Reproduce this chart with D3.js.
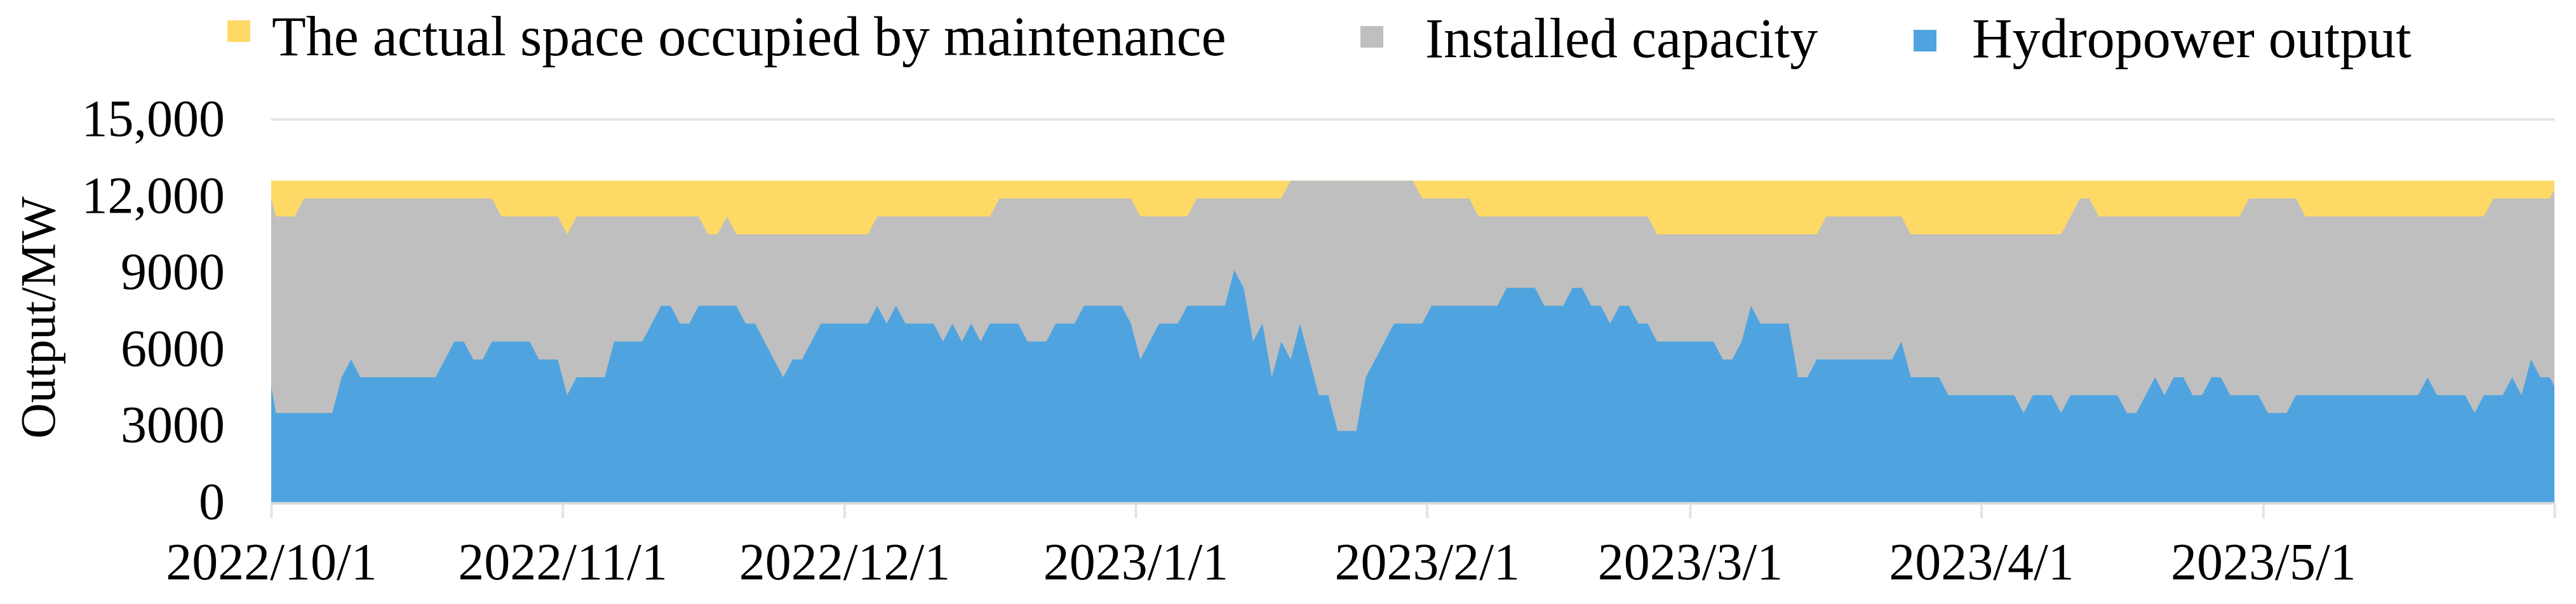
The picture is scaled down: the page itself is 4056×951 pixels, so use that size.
<!DOCTYPE html>
<html>
<head>
<meta charset="utf-8">
<script src="https://cdn.jsdelivr.net/npm/d3@7"></script>
<style>
  html, body { margin: 0; padding: 0; background: #ffffff; }
  svg { display: block; }
  text { font-family: "Liberation Serif", "Times New Roman", serif; fill: #000; }
</style>
</head>
<body>
<svg id="chart" width="4056" height="951"></svg>
<script>
// ---------------- DATA ----------------
// Daily series, first day 2022-09-30 (partly outside the axis), last day 2023-06-01
const firstDay = "2022-09-30";

const seriesNames = ["The actual space occupied by maintenance", "Installed capacity", "Hydropower output"];

// Hydropower output (MW)
const hydropowerOutput = [
  5600,
  // Oct
  3500,3500,3500,3500,3500,3500,3500,4900,5600,4900,4900,4900,4900,4900,4900,4900,4900,4900,5600,6300,6300,5600,5600,6300,6300,6300,6300,6300,5600,5600,5600,
  // Nov
  4200,4900,4900,4900,4900,6300,6300,6300,6300,7000,7700,7700,7000,7000,7700,7700,7700,7700,7700,7000,7000,6300,5600,4900,5600,5600,6300,7000,7000,7000,
  // Dec
  7000,7000,7000,7700,7000,7700,7000,7000,7000,7000,6300,7000,6300,7000,6300,7000,7000,7000,7000,6300,6300,6300,7000,7000,7000,7700,7700,7700,7700,7700,7000,
  // Jan
  5600,6300,7000,7000,7000,7700,7700,7700,7700,7700,9100,8400,6300,7000,4900,6300,5600,7000,5600,4200,4200,2800,2800,2800,4900,5600,6300,7000,7000,7000,7000,
  // Feb
  7700,7700,7700,7700,7700,7700,7700,7700,8400,8400,8400,8400,7700,7700,7700,8400,8400,7700,7700,7000,7700,7700,7000,7000,6300,6300,6300,6300,
  // Mar
  6300,6300,6300,5600,5600,6300,7700,7000,7000,7000,7000,4900,4900,5600,5600,5600,5600,5600,5600,5600,5600,5600,6300,4900,4900,4900,4900,4200,4200,4200,4200,
  // Apr
  4200,4200,4200,4200,3500,4200,4200,4200,3500,4200,4200,4200,4200,4200,4200,3500,3500,4200,4900,4200,4900,4900,4200,4200,4900,4900,4200,4200,4200,4200,
  // May
  3500,3500,3500,4200,4200,4200,4200,4200,4200,4200,4200,4200,4200,4200,4200,4200,4200,4900,4200,4200,4200,4200,3500,4200,4200,4200,4900,4200,5600,4900,4900,
  // Jun 1
  4200
];

// Installed capacity available (MW)
const installedCapacity = [
  12600,
  // Oct
  11200,11200,11200,11900,11900,11900,11900,11900,11900,11900,11900,11900,11900,11900,11900,11900,11900,11900,11900,11900,11900,11900,11900,11900,11200,11200,11200,11200,11200,11200,11200,
  // Nov
  10500,11200,11200,11200,11200,11200,11200,11200,11200,11200,11200,11200,11200,11200,11200,10500,10500,11200,10500,10500,10500,10500,10500,10500,10500,10500,10500,10500,10500,10500,
  // Dec
  10500,10500,10500,11200,11200,11200,11200,11200,11200,11200,11200,11200,11200,11200,11200,11200,11900,11900,11900,11900,11900,11900,11900,11900,11900,11900,11900,11900,11900,11900,11900,
  // Jan
  11200,11200,11200,11200,11200,11200,11900,11900,11900,11900,11900,11900,11900,11900,11900,11900,12600,12600,12600,12600,12600,12600,12600,12600,12600,12600,12600,12600,12600,12600,11900,
  // Feb
  11900,11900,11900,11900,11900,11200,11200,11200,11200,11200,11200,11200,11200,11200,11200,11200,11200,11200,11200,11200,11200,11200,11200,11200,10500,10500,10500,10500,
  // Mar
  10500,10500,10500,10500,10500,10500,10500,10500,10500,10500,10500,10500,10500,10500,11200,11200,11200,11200,11200,11200,11200,11200,11200,10500,10500,10500,10500,10500,10500,10500,10500,
  // Apr
  10500,10500,10500,10500,10500,10500,10500,10500,10500,11200,11900,11900,11200,11200,11200,11200,11200,11200,11200,11200,11200,11200,11200,11200,11200,11200,11200,11200,11900,11900,
  // May
  11900,11900,11900,11900,11200,11200,11200,11200,11200,11200,11200,11200,11200,11200,11200,11200,11200,11200,11200,11200,11200,11200,11200,11200,11900,11900,11900,11900,11900,11900,11900,
  // Jun 1
  12600
];

// Top of the maintenance band (MW)
const maintenanceTop = [
  12600,
  12600,12600,12600,12600,12600,12600,12600,12600,12600,12600,12600,12600,12600,12600,12600,12600,12600,12600,12600,12600,12600,12600,12600,12600,12600,12600,12600,12600,12600,12600,12600,
  12600,12600,12600,12600,12600,12600,12600,12600,12600,12600,12600,12600,12600,12600,12600,12600,12600,12600,12600,12600,12600,12600,12600,12600,12600,12600,12600,12600,12600,12600,
  12600,12600,12600,12600,12600,12600,12600,12600,12600,12600,12600,12600,12600,12600,12600,12600,12600,12600,12600,12600,12600,12600,12600,12600,12600,12600,12600,12600,12600,12600,12600,
  12600,12600,12600,12600,12600,12600,12600,12600,12600,12600,12600,12600,12600,12600,12600,12600,12600,12600,12600,12600,12600,12600,12600,12600,12600,12600,12600,12600,12600,12600,12600,
  12600,12600,12600,12600,12600,12600,12600,12600,12600,12600,12600,12600,12600,12600,12600,12600,12600,12600,12600,12600,12600,12600,12600,12600,12600,12600,12600,12600,
  12600,12600,12600,12600,12600,12600,12600,12600,12600,12600,12600,12600,12600,12600,12600,12600,12600,12600,12600,12600,12600,12600,12600,12600,12600,12600,12600,12600,12600,12600,12600,
  12600,12600,12600,12600,12600,12600,12600,12600,12600,12600,12600,12600,12600,12600,12600,12600,12600,12600,12600,12600,12600,12600,12600,12600,12600,12600,12600,12600,12600,12600,
  12600,12600,12600,12600,12600,12600,12600,12600,12600,12600,12600,12600,12600,12600,12600,12600,12600,12600,12600,12600,12600,12600,12600,12600,12600,12600,12600,12600,12600,12600,12600,
  12600
];

const yTickValues = [0, 3000, 6000, 9000, 12000, 15000];
const yTickLabels = ["0", "3000", "6000", "9000", "12,000", "15,000"];
const xTickDates = ["2022-10-01","2022-11-01","2022-12-01","2023-01-01","2023-02-01","2023-03-01","2023-04-01","2023-05-01","2023-06-01"];
const xTickLabels = ["2022/10/1","2022/11/1","2022/12/1","2023/1/1","2023/2/1","2023/3/1","2023/4/1","2023/5/1",""];
const axisDomain = ["2022-10-01", "2023-06-01"];
const yMax = 15000;
const yTitle = "Output/MW";

// ---------------- LAYOUT ----------------
const colors = { maint: "#FFD966", cap: "#BFBFBF", out: "#4FA4DF" };
const plot = { left: 427, right: 4022, top: 188, bottom: 791 };

const parse = d3.utcParse("%Y-%m-%d");
const day0 = parse(firstDay);
const days = hydropowerOutput.map((_, i) => d3.utcDay.offset(day0, i));

const svg = d3.select("#chart");

const x = d3.scaleUtc()
  .domain(axisDomain.map(parse))
  .range([plot.left, plot.right]);
const y = d3.scaleLinear().domain([0, yMax]).range([plot.bottom, plot.top]);

const px = (i) => x(d3.utcHour.offset(days[i], 12));

// clip
svg.append("defs").append("clipPath").attr("id", "plotClip")
  .append("rect")
  .attr("x", plot.left).attr("y", plot.top - 2)
  .attr("width", plot.right - plot.left).attr("height", plot.bottom - plot.top + 2);

// gridlines
svg.append("g")
  .selectAll("line")
  .data(yTickValues)
  .join("line")
  .attr("x1", plot.left).attr("x2", plot.right)
  .attr("y1", d => y(d)).attr("y2", d => y(d))
  .attr("stroke", "#E3E3E3").attr("stroke-width", 4);

// areas
const areaGen = (arr) => d3.area()
  .x((d, i) => px(i))
  .y0(y(0))
  .y1((d) => y(d))
  .curve(d3.curveLinear)(arr);

const g = svg.append("g").attr("clip-path", "url(#plotClip)");
g.append("path").attr("d", areaGen(maintenanceTop)).attr("fill", colors.maint);
g.append("path").attr("d", areaGen(installedCapacity)).attr("fill", colors.cap);
g.append("path").attr("d", areaGen(hydropowerOutput)).attr("fill", colors.out);

// x axis
const xAxis = d3.axisBottom(x)
  .tickValues(xTickDates.map(parse))
  .tickFormat((d, i) => xTickLabels[i])
  .tickSizeInner(24)
  .tickSizeOuter(0)
  .tickPadding(40);
const xg = svg.append("g").attr("transform", `translate(0,${plot.bottom + 1})`).call(xAxis);
xg.select(".domain").attr("stroke", "#D9D9D9").attr("stroke-width", 4);
xg.selectAll(".tick line").attr("stroke", "#E3E3E3").attr("stroke-width", 4);
xg.selectAll(".tick text")
  .attr("font-family", "Liberation Serif, Times New Roman, serif")
  .attr("font-size", 82)
  .attr("fill", "#000")
  .attr("dy", 0)
  .attr("y", 120);

// y axis
const yAxis = d3.axisLeft(y)
  .tickValues(yTickValues)
  .tickFormat((d, i) => yTickLabels[i])
  .tickSize(0)
  .tickPadding(73);
const yg = svg.append("g").attr("transform", `translate(${plot.left},0)`).call(yAxis);
yg.select(".domain").remove();
yg.selectAll(".tick text")
  .attr("font-family", "Liberation Serif, Times New Roman, serif")
  .attr("font-size", 82)
  .attr("fill", "#000")
  .attr("dy", "0.31em");

// y title
svg.append("text")
  .attr("transform", `translate(86,500) rotate(-90)`)
  .attr("text-anchor", "middle")
  .attr("font-size", 78)
  .text(yTitle);

// legend
const legendItems = [
  { name: seriesNames[0], color: colors.maint, sx: 358, sy: 32, tx: 428, ty: 87 },
  { name: seriesNames[1], color: colors.cap, sx: 2142, sy: 41, tx: 2244, ty: 90 },
  { name: seriesNames[2], color: colors.out, sx: 3013, sy: 47, tx: 3105, ty: 90 }
];
const lg = svg.append("g");
lg.selectAll("rect").data(legendItems).join("rect")
  .attr("x", d => d.sx).attr("y", d => d.sy)
  .attr("width", 36).attr("height", 34)
  .attr("fill", d => d.color);
lg.selectAll("text").data(legendItems).join("text")
  .attr("x", d => d.tx).attr("y", d => d.ty)
  .attr("font-size", 88)
  .text(d => d.name);
</script>
</body>
</html>
